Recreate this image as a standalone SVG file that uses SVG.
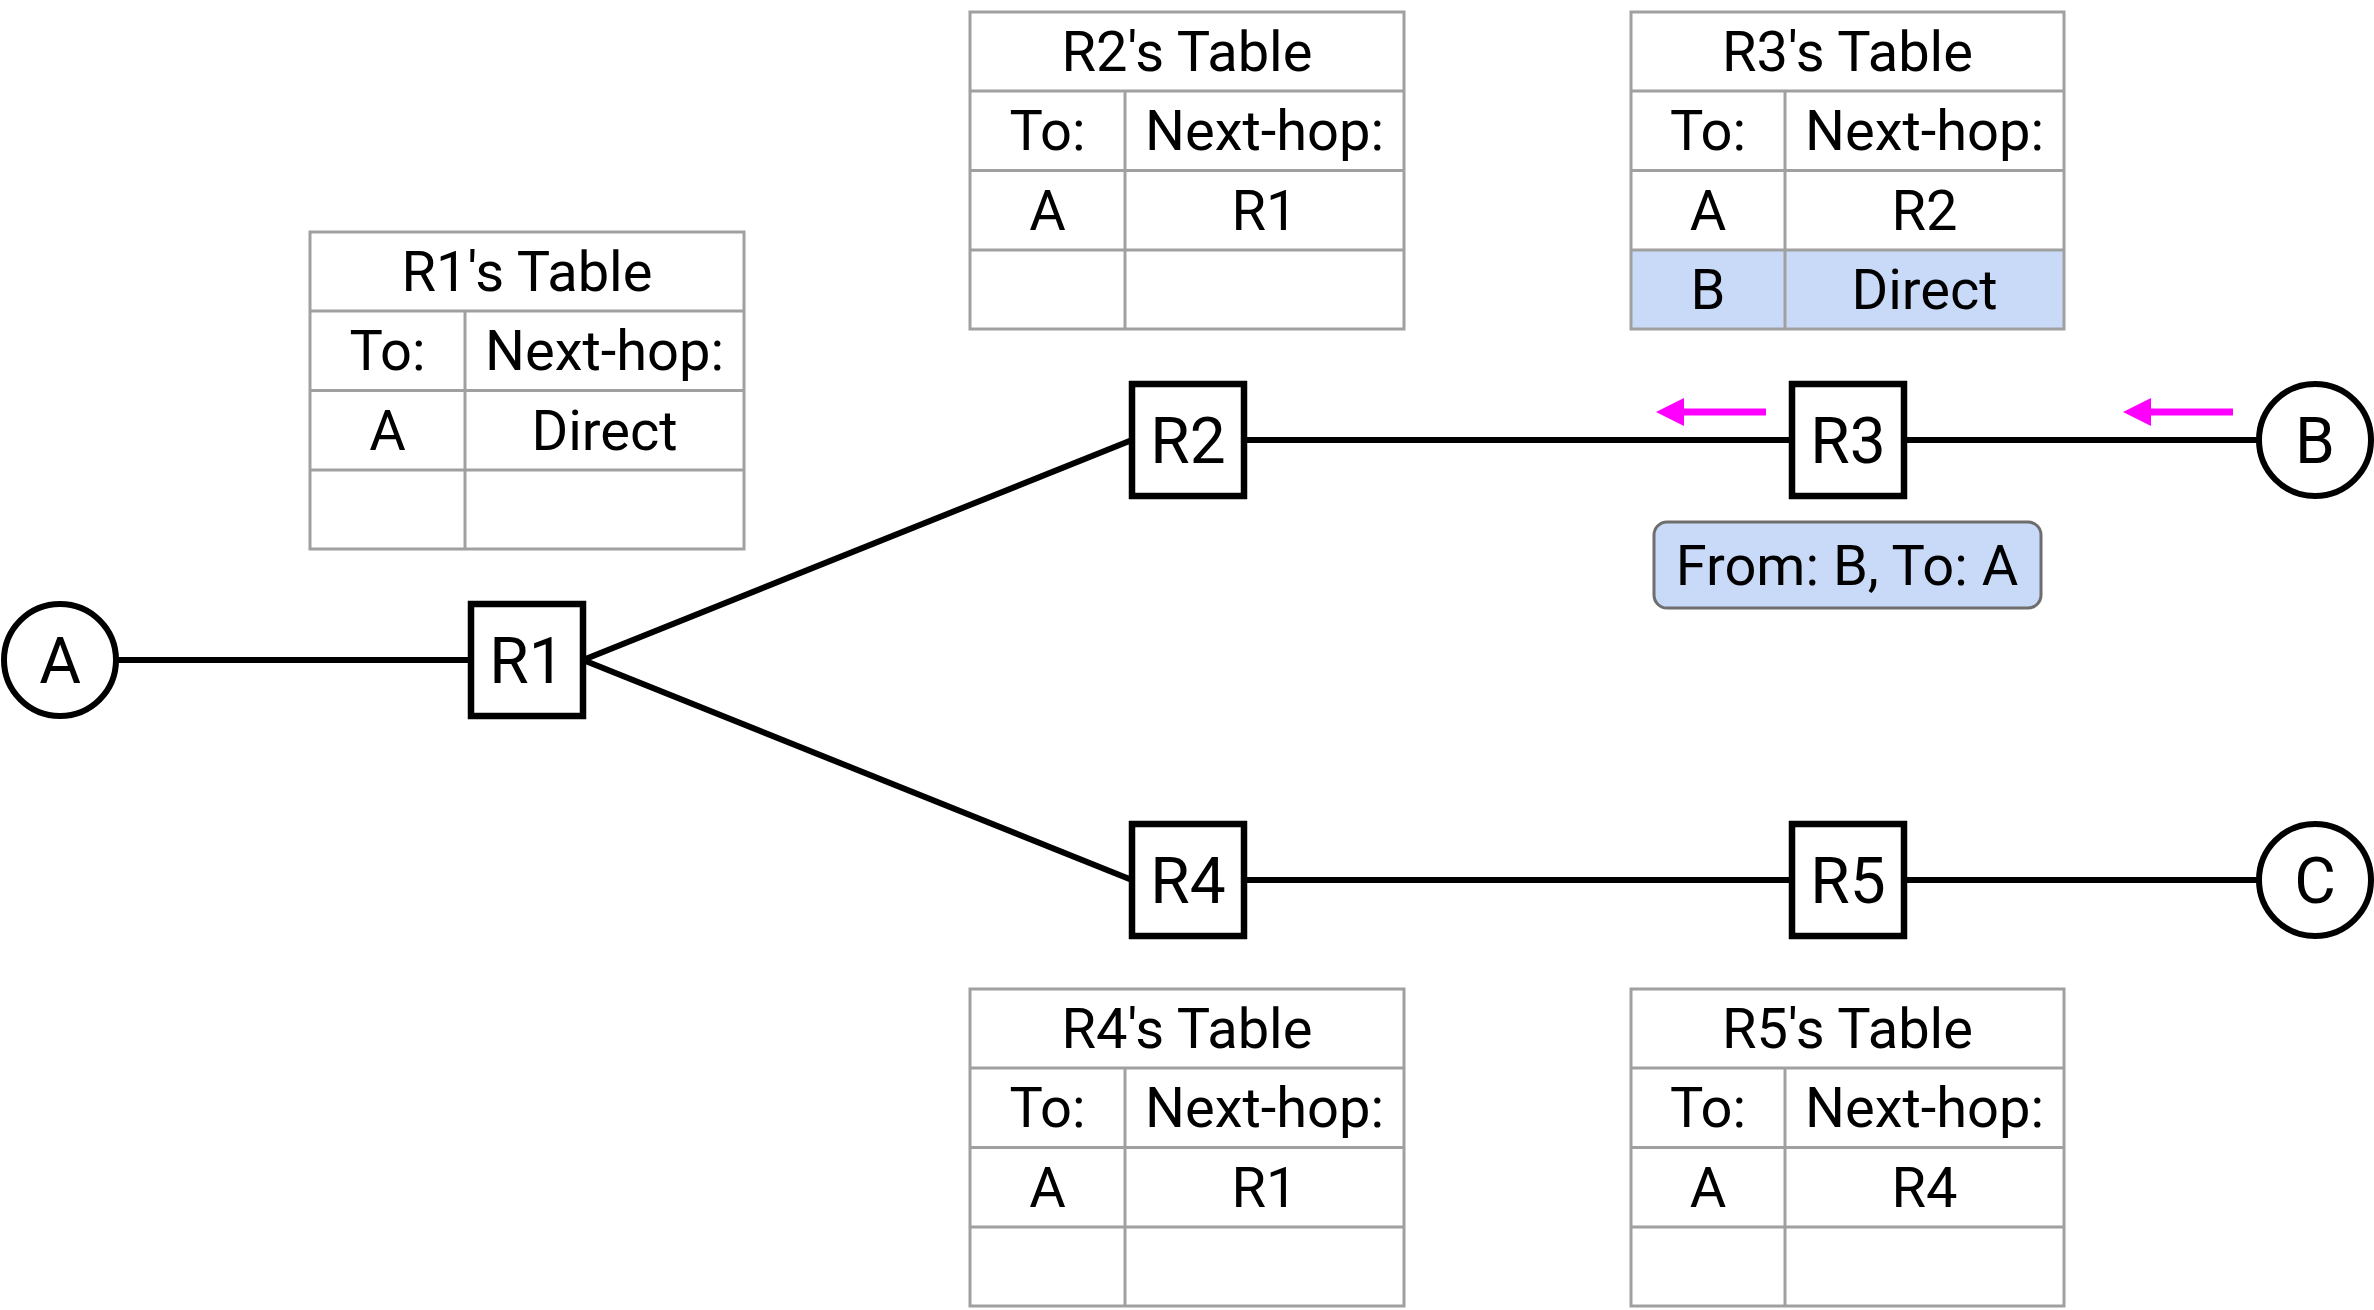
<svg xmlns="http://www.w3.org/2000/svg" width="2374" height="1310" viewBox="0 0 2374 1310">
<style>
text{font-family:Roboto,"Liberation Sans",sans-serif;fill:#000;text-anchor:middle}
.tbl rect,.tbl line{stroke:#a0a0a0;stroke-width:3;fill:none}
.tbl .hl{fill:#c9daf8;stroke:none}
.tt{font-size:56px}
.router rect{fill:#fff;stroke:#000;stroke-width:6.5}
.host circle{fill:#fff;stroke:#000;stroke-width:6}
.lbl{font-size:64px}
.link{stroke:#000;stroke-width:6;fill:none}
.pkt{stroke:#ff00ff;stroke-width:7;fill:none}
.note rect{fill:#c9daf8;stroke:#6e6e6e;stroke-width:3}
</style>
<defs>
<marker id="mh" markerUnits="userSpaceOnUse" markerWidth="28" markerHeight="28" refX="0" refY="14" orient="auto">
<path d="M0,0 L28,14 L0,28 z" fill="#ff00ff"/>
</marker>
</defs>
<g id="connectors">
<line class="link" x1="117" y1="660" x2="471" y2="660"/>
<line class="link" x1="583" y1="660" x2="1132" y2="440"/>
<line class="link" x1="583" y1="660" x2="1132" y2="880"/>
<line class="link" x1="1243" y1="440" x2="1792" y2="440"/>
<line class="link" x1="1904" y1="440" x2="2258" y2="440"/>
<line class="link" x1="1243" y1="880" x2="1792" y2="880"/>
<line class="link" x1="1904" y1="880" x2="2258" y2="880"/>
<line class="pkt" x1="1766" y1="412" x2="1684" y2="412" marker-end="url(#mh)"/>
<line class="pkt" x1="2233" y1="412" x2="2151" y2="412" marker-end="url(#mh)"/>
</g>
<g id="host-A" class="host"><circle cx="60" cy="660" r="56"/><text class="lbl" x="60" y="683">A</text></g>
<g id="host-B" class="host"><circle cx="2315" cy="440" r="56"/><text class="lbl" x="2315" y="463">B</text></g>
<g id="host-C" class="host"><circle cx="2315" cy="880" r="56"/><text class="lbl" x="2315" y="903">C</text></g>
<g id="router-R1" class="router"><rect x="471" y="604" width="112" height="112"/><text class="lbl" x="527" y="683">R1</text></g>
<g id="router-R2" class="router"><rect x="1132" y="384" width="112" height="112"/><text class="lbl" x="1188" y="463">R2</text></g>
<g id="router-R3" class="router"><rect x="1792" y="384" width="112" height="112"/><text class="lbl" x="1848" y="463">R3</text></g>
<g id="router-R4" class="router"><rect x="1132" y="824" width="112" height="112"/><text class="lbl" x="1188" y="903">R4</text></g>
<g id="router-R5" class="router"><rect x="1792" y="824" width="112" height="112"/><text class="lbl" x="1848" y="903">R5</text></g>
<g id="note-packet" class="note"><rect x="1654" y="522" width="387" height="86" rx="13"/><text class="tt" x="1847" y="585">From: B, To: A</text></g>
<g id="table-R1" class="tbl">
<rect x="310" y="232" width="434" height="317"/>
<line x1="310" y1="311" x2="744" y2="311"/><line x1="310" y1="390.5" x2="744" y2="390.5"/><line x1="310" y1="470" x2="744" y2="470"/>
<line x1="465" y1="311" x2="465" y2="549"/>
<text class="tt" x="527" y="291">R1's Table</text>
<text class="tt" x="387.5" y="370">To:</text><text class="tt" x="604.5" y="370">Next-hop:</text>
<text class="tt" x="387.5" y="450">A</text><text class="tt" x="604.5" y="450">Direct</text>
</g>
<g id="table-R2" class="tbl">
<rect x="970" y="12" width="434" height="317"/>
<line x1="970" y1="91" x2="1404" y2="91"/><line x1="970" y1="170.5" x2="1404" y2="170.5"/><line x1="970" y1="250" x2="1404" y2="250"/>
<line x1="1125" y1="91" x2="1125" y2="329"/>
<text class="tt" x="1187" y="71">R2's Table</text>
<text class="tt" x="1047.5" y="150">To:</text><text class="tt" x="1264.5" y="150">Next-hop:</text>
<text class="tt" x="1047.5" y="230">A</text><text class="tt" x="1264.5" y="230">R1</text>
</g>
<g id="table-R3" class="tbl">
<rect class="hl" x="1631" y="250" width="433" height="79"/>
<rect x="1631" y="12" width="433" height="317"/>
<line x1="1631" y1="91" x2="2064" y2="91"/><line x1="1631" y1="170.5" x2="2064" y2="170.5"/><line x1="1631" y1="250" x2="2064" y2="250"/>
<line x1="1785" y1="91" x2="1785" y2="329"/>
<text class="tt" x="1847.5" y="71">R3's Table</text>
<text class="tt" x="1708" y="150">To:</text><text class="tt" x="1924.5" y="150">Next-hop:</text>
<text class="tt" x="1708" y="230">A</text><text class="tt" x="1924.5" y="230">R2</text>
<text class="tt" x="1708" y="309">B</text><text class="tt" x="1924.5" y="309">Direct</text>
</g>
<g id="table-R4" class="tbl">
<rect x="970" y="989" width="434" height="317"/>
<line x1="970" y1="1068" x2="1404" y2="1068"/><line x1="970" y1="1147.5" x2="1404" y2="1147.5"/><line x1="970" y1="1227" x2="1404" y2="1227"/>
<line x1="1125" y1="1068" x2="1125" y2="1306"/>
<text class="tt" x="1187" y="1048">R4's Table</text>
<text class="tt" x="1047.5" y="1127">To:</text><text class="tt" x="1264.5" y="1127">Next-hop:</text>
<text class="tt" x="1047.5" y="1207">A</text><text class="tt" x="1264.5" y="1207">R1</text>
</g>
<g id="table-R5" class="tbl">
<rect x="1631" y="989" width="433" height="317"/>
<line x1="1631" y1="1068" x2="2064" y2="1068"/><line x1="1631" y1="1147.5" x2="2064" y2="1147.5"/><line x1="1631" y1="1227" x2="2064" y2="1227"/>
<line x1="1785" y1="1068" x2="1785" y2="1306"/>
<text class="tt" x="1847.5" y="1048">R5's Table</text>
<text class="tt" x="1708" y="1127">To:</text><text class="tt" x="1924.5" y="1127">Next-hop:</text>
<text class="tt" x="1708" y="1207">A</text><text class="tt" x="1924.5" y="1207">R4</text>
</g>
</svg>
